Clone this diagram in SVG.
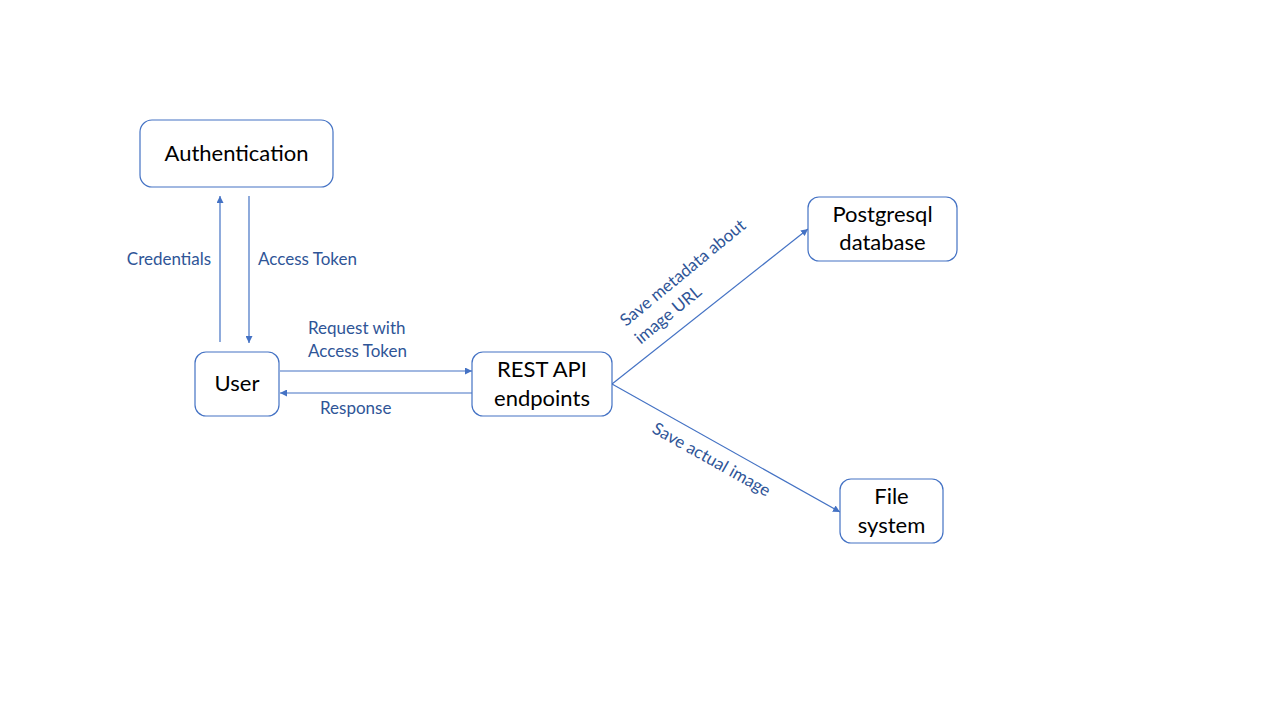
<svg xmlns="http://www.w3.org/2000/svg" width="1280" height="720" viewBox="0 0 1280 720">
<defs>
<style>
.node rect{fill:#fff;stroke:#4472C4;stroke-width:1.2}
.node text{font-family:Lato,"Open Sans","Liberation Sans",sans-serif;font-size:22px;fill:#000;text-anchor:middle}
.lbl{font-family:Lato,"Open Sans","Liberation Sans",sans-serif;font-size:17px;fill:#2F5597}
.conn line{stroke:#4472C4;stroke-width:1.2;marker-end:url(#ah)}
</style>
<marker id="ah" viewBox="0 0 10 10" refX="10" refY="5" markerWidth="7" markerHeight="7" markerUnits="userSpaceOnUse" orient="auto">
<path d="M0,0 L10,5 L0,10 z" fill="#4472C4"/>
</marker>
</defs>
<rect width="1280" height="720" fill="#fff"/>
<g class="conn" id="connectors">
<line x1="220" y1="342" x2="220" y2="196"/>
<line x1="249" y1="196" x2="249" y2="343"/>
<line x1="280" y1="371" x2="472" y2="371"/>
<line x1="472" y1="393" x2="280" y2="393"/>
<line x1="612" y1="384" x2="808" y2="229"/>
<line x1="612" y1="384" x2="840" y2="512"/>
</g>
<g id="labels">
<text class="lbl" x="169" y="265" text-anchor="middle">Credentials</text>
<text class="lbl" x="258" y="265">Access Token</text>
<text class="lbl" x="308" y="334">Request with</text>
<text class="lbl" x="308" y="357">Access Token</text>
<text class="lbl" x="320" y="414">Response</text>
<text class="lbl" transform="translate(626,327) rotate(-39.5)"><tspan x="0" y="0">Save metadata about</tspan><tspan x="0" y="23">image URL</tspan></text>
<text class="lbl" transform="translate(651,432) rotate(29.3)">Save actual image</text>
</g>
<g class="node" id="authentication">
<rect x="140" y="120" width="193" height="67" rx="12"/>
<text x="236.5" y="161">Authentication</text>
</g>
<g class="node" id="user">
<rect x="195" y="352" width="84" height="64" rx="11"/>
<text x="237" y="391">User</text>
</g>
<g class="node" id="rest-api">
<rect x="472" y="352" width="140" height="64" rx="11"/>
<text x="542" y="377">REST API</text>
<text x="542" y="406">endpoints</text>
</g>
<g class="node" id="postgresql">
<rect x="808" y="197" width="149" height="64" rx="11"/>
<text x="882.5" y="222">Postgresql</text>
<text x="882.5" y="250">database</text>
</g>
<g class="node" id="file-system">
<rect x="840" y="479" width="103" height="64" rx="11"/>
<text x="891.5" y="504">File</text>
<text x="891.5" y="533">system</text>
</g>
</svg>
